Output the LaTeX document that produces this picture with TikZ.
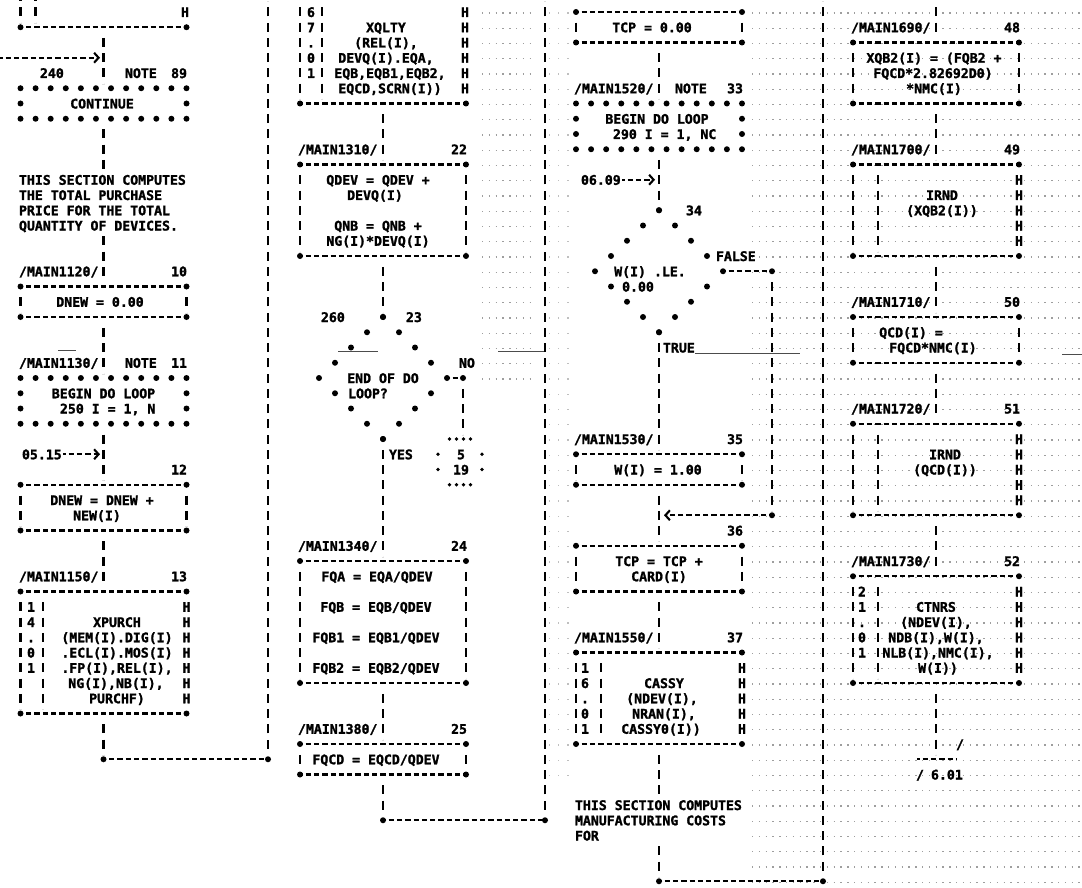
\documentclass[tikz,border=0pt]{standalone}
\usepackage{fontspec}
\newfontfamily\prt{DejaVu Sans Mono}[BoldFeatures={FakeBold=1.6}]
\newcommand\pfont{\prt\bfseries\fontsize{13.2pt}{13.2pt}\selectfont}
\usetikzlibrary{arrows.meta}
\tikzset{
  hl/.style={line width=2.1pt, dash pattern=on 5.3pt off 3pt, dash phase=2.65pt},
  vl/.style={line width=2.1pt, dash pattern=on 9pt off 6.25pt, dash phase=9pt, shorten <=4.5pt, shorten >=4.5pt},
  txt/.style={font=\pfont, inner sep=0pt, outer sep=0pt, anchor=base},
  lt/.style={txt, anchor=base west},
  rt/.style={txt, anchor=base east},
  boxn/.style={inner sep=0pt, outer sep=0pt, minimum width=166pt, anchor=north west},
  noise/.style={black!38, line width=1.3pt, dash pattern=on 1.3pt off 5.5pt},
  lnoise/.style={black!25, line width=1.2pt, dash pattern=on 1.2pt off 8pt},
  arr/.style={-{Straight Barb[length=4.5pt,width=10pt]}},
  art/.style={black!70, line width=0.9pt},
}
% plain process box: name, left x, top row, bottom row
\newcommand\boxn[4]{%
  \node[boxn, minimum height={15.25*(#4-#3)*1pt}] (#1) at (#2,{ry(#3)}) {};
  \draw[hl] (#1.north west) -- (#1.north east);
  \draw[hl] (#1.south west) -- (#1.south east);
  \draw[vl] (#1.north west) -- (#1.south west);
  \draw[vl] (#1.north east) -- (#1.south east);
  \foreach \anc in {north west,north east,south west,south east}{\fill (#1.\anc) circle (3pt);}
}
% predefined process box: name, left x, top row, bottom row, inner bar offset
\newcommand\pbox[5]{%
  \node[boxn, minimum height={15.25*(#4-#3)*1pt}] (#1) at (#2,{ry(#3)}) {};
  \draw[hl] (#1.north west) -- (#1.north east);
  \draw[hl] (#1.south west) -- (#1.south east);
  \draw[vl] (#1.north west) -- (#1.south west);
  \draw[vl] ([xshift=#5pt]#1.north west) -- ([xshift=#5pt]#1.south west);
  \foreach \anc in {north west,north east,south west,south east}{\fill (#1.\anc) circle (3pt);}
  \pgfmathtruncatemacro\rA{#3+1}\pgfmathtruncatemacro\rB{#4-1}
  \foreach \r in {\rA,...,\rB}{\node[txt] (#1-H-\r) at ({#2+166},{rb(\r)}) {H};}
}
% note box drawn with stars
\newcommand\nbox[4]{%
  \node[boxn, minimum height={15.25*(#4-#3)*1pt}] (#1) at (#2,{ry(#3)}) {};
  \foreach \i in {0,...,11}{\fill ({#2+15.09*\i},{ry(#3)}) circle (3pt); \fill ({#2+15.09*\i},{ry(#4)}) circle (3pt);}
  \pgfmathtruncatemacro\rA{#3+1}\pgfmathtruncatemacro\rB{#4-1}
  \foreach \r in {\rA,...,\rB}{\fill (#2,{ry(\r)}) circle (3pt); \fill ({#2+166},{ry(\r)}) circle (3pt);}
}
% decision drawn with stars: name, centre x, top row
\newcommand\dmd[3]{%
  \coordinate (#1) at (#2,{ry(#3+4)});
  \coordinate (#1-t) at (#2,{ry(#3)});
  \coordinate (#1-b) at (#2,{ry(#3+8)});
  \coordinate (#1-r) at ({#2+64},{ry(#3+4)});
  \foreach \k in {0,...,8}{\pgfmathsetmacro\hw{16*min(\k,8-\k)}
    \fill ({#2-\hw},{ry(#3+\k)}) circle (3pt);
    \fill ({#2+\hw},{ry(#3+\k)}) circle (3pt);}
}
\begin{document}
\begin{tikzpicture}[x=1pt,y=-1pt,declare function={ry(\r)=12+15.25*\r; rb(\r)=17+15.25*\r;}]
\useasboundingbox (0,0) rectangle (1082,888);
\fill[white] (0,0) rectangle (1082,888);

% ---------- faint printer noise
\foreach \r in {0,...,57}{\draw[noise] (752,{ry(\r)+1}) -- (1082,{ry(\r)+1});}
\foreach \r in {0,...,24}{\draw[noise] (482,{ry(\r)+1}) -- (530,{ry(\r)+1});}
\foreach \r in {0,...,50}{\draw[lnoise] (549,{ry(\r)+1}) -- (572,{ry(\r)+1});}
\draw[art] (58,350) -- (76,350);
\draw[art] (338,351) -- (378,351);
\draw[art] (498,351) -- (545,351);
\draw[art] (695,353) -- (800,353);
\draw[art] (1062,354) -- (1082,354);

% ================= COLUMN 1 (L=20.5, C=103.5)
\node[boxn, minimum height={15.25*6*1pt}] (pre1) at (20.5,{ry(-5)}) {};
\draw[vl] (pre1.north west) -- (pre1.south west);
\draw[vl] ([xshift=15pt]pre1.north west) -- ([xshift=15pt]pre1.south west);
\draw[hl] (pre1.south west) -- (pre1.south east);
\fill (pre1.south west) circle (3pt); \fill (pre1.south east) circle (3pt);
\node[txt] (c1h0) at (185,{rb(0)}) {H};

\coordinate (c1in) at (0,{ry(3)});
\coordinate (c1inend) at (100,{ry(3)});
\draw[hl,arr] (c1in) -- (c1inend);
\node[lt] (c1l240) at (40,{rb(4)}) {240};
\node[lt] (c1note89) at (125,{rb(4)}) {NOTE};
\node[rt] (c1n89) at (187,{rb(4)}) {89};
\nbox{cont}{20.5}{5}{7}
\node[txt] (c1cont) at (102,{rb(6)}) {CONTINUE};
\draw[vl] (pre1.south) -- (cont.north);

\coordinate (cm1top) at (103.5,{ry(11)});
\coordinate (cm1bot) at (103.5,{ry(14)});
\draw[vl] (cont.south) -- (cm1top);
\node[lt] (c1c1) at (19,{rb(11)}) {THIS SECTION COMPUTES};
\node[lt] (c1c2) at (19,{rb(12)}) {THE TOTAL PURCHASE};
\node[lt] (c1c3) at (19,{rb(13)}) {PRICE FOR THE TOTAL};
\node[lt] (c1c4) at (19,{rb(14)}) {QUANTITY OF DEVICES.};

\node[lt] (c1m10) at (19,{rb(17)}) {/MAIN1120/};
\node[rt] (c1n10) at (187,{rb(17)}) {10};
\boxn{dnew0}{20.5}{18}{20}
\node[txt] (c1t19) at (100,{rb(19)}) {DNEW = 0.00};
\draw[vl] (cm1bot) -- (dnew0.north);

\node[lt] (c1m11) at (19,{rb(23)}) {/MAIN1130/};
\node[lt] (c1note11) at (125,{rb(23)}) {NOTE};
\node[rt] (c1n11) at (187,{rb(23)}) {11};
\nbox{loop11}{20.5}{24}{27}
\node[txt] (c1t25) at (103.5,{rb(25)}) {BEGIN DO LOOP};
\node[lt] (c1t26) at (60,{rb(26)}) {250 I = 1, N};
\draw[vl] (dnew0.south) -- (loop11.north);

\node[lt] (c1e29) at (22,{rb(29)}) {05.15};
\coordinate (c1e29a) at (63,{ry(29)});
\coordinate (c1e29b) at (100,{ry(29)});
\draw[hl,arr] (c1e29a) -- (c1e29b);
\node[rt] (c1n12) at (187,{rb(30)}) {12};
\boxn{dnew1}{20.5}{31}{34}
\node[txt] (c1t32) at (102,{rb(32)}) {DNEW = DNEW +};
\node[txt] (c1t33) at (97,{rb(33)}) {NEW(I)};
\draw[vl] (loop11.south) -- (dnew1.north);

\node[lt] (c1m13) at (19,{rb(37)}) {/MAIN1150/};
\node[rt] (c1n13) at (187,{rb(37)}) {13};
\pbox{xpurch}{20.5}{38}{46}{22.5}
\draw[vl] (dnew1.south) -- (xpurch.north);
\foreach \d [count=\i from 39] in {1,4,.,0,1}{\node[txt] (c1d\i) at (31,{rb(\i)}) {\d};}
\node[txt] (c1x40) at (117,{rb(40)}) {XPURCH};
\node[txt] (c1x41) at (117,{rb(41)}) {(MEM(I).DIG(I)};
\node[txt] (c1x42) at (117,{rb(42)}) {.ECL(I).MOS(I)};
\node[txt] (c1x43) at (117,{rb(43)}) {.FP(I),REL(I),};
\node[txt] (c1x44) at (116,{rb(44)}) {NG(I),NB(I),};
\node[txt] (c1x45) at (117,{rb(45)}) {PURCHF)};

\coordinate (j1) at (103.5,{ry(49)});
\coordinate (j2) at (268,{ry(49)});
\coordinate (j2top) at (268,{ry(-1)});
\draw[vl] (xpurch.south) -- (j1);
\draw[hl] (j1) -- (j2);
\draw[vl] (j2) -- (j2top);
\fill (j1) circle (3pt); \fill (j2) circle (3pt);

% ================= COLUMN 2 (L=300, C=383)
\node[boxn, minimum height={15.25*7*1pt}] (xq) at (300,{ry(-1)}) {};
\draw[vl] (xq.north west) -- (xq.south west);
\draw[vl] ([xshift=22pt]xq.north west) -- ([xshift=22pt]xq.south west);
\draw[hl] (xq.south west) -- (xq.south east);
\fill (xq.south west) circle (3pt); \fill (xq.south east) circle (3pt);
\foreach \r in {0,...,5}{\node[txt] (xq-H-\r) at (465,{rb(\r)}) {H};}
\foreach \d [count=\i from 0] in {6,7,.,0,1}{\node[txt] (c2d\i) at (311,{rb(\i)}) {\d};}
\node[txt] (c2x1) at (386,{rb(1)}) {XQLTY};
\node[txt] (c2x2) at (386,{rb(2)}) {(REL(I),};
\node[txt] (c2x3) at (386,{rb(3)}) {DEVQ(I).EQA,};
\node[txt] (c2x4) at (390,{rb(4)}) {EQB,EQB1,EQB2,};
\node[txt] (c2x5) at (390,{rb(5)}) {EQCD,SCRN(I))};

\node[lt] (c2m22) at (298,{rb(9)}) {/MAIN1310/};
\node[rt] (c2n22) at (467,{rb(9)}) {22};
\boxn{qdev}{300}{10}{16}
\draw[vl] (xq.south) -- (qdev.north);
\node[txt] (c2t11) at (378,{rb(11)}) {QDEV = QDEV +};
\node[txt] (c2t12) at (375,{rb(12)}) {DEVQ(I)};
\node[txt] (c2t14) at (378,{rb(14)}) {QNB = QNB +};
\node[txt] (c2t15) at (378,{rb(15)}) {NG(I)*DEVQ(I)};

\dmd{d23}{383}{20}
\draw[vl] (qdev.south) -- (d23-t);
\node[lt] (c2l260) at (321,{rb(20)}) {260};
\node[lt] (c2n23) at (406,{rb(20)}) {23};
\node[txt] (c2q1) at (383,{rb(24)}) {END OF DO};
\node[txt] (c2q2) at (368,{rb(25)}) {LOOP?};
\node[lt] (c2no) at (459,{rb(23)}) {NO};
\coordinate (nob) at (463,{ry(24)});
\coordinate (noe) at (463,{ry(28)});
\draw[hl] (d23-r) -- (nob);
\fill (nob) circle (3pt);
\draw[vl] (nob) -- (noe);
% off-page connector 5 / 19
\node[txt] (opc5) at (461,{rb(29)}) {5};
\node[txt] (opc19) at (461,{rb(30)}) {19};
\foreach \xx in {449.5,456.5,463.5,470.5}{\fill (\xx,{ry(28)}) circle (1.8pt); \fill (\xx,{ry(31)}) circle (1.8pt);}
\foreach \yy in {29,30}{\fill (438,{ry(\yy)}) circle (1.8pt); \fill (482,{ry(\yy)}) circle (1.8pt);}

\node[lt] (c2yes) at (389,{rb(29)}) {YES};
\node[lt] (c2m24) at (298,{rb(35)}) {/MAIN1340/};
\node[rt] (c2n24) at (467,{rb(35)}) {24};
\boxn{fqa}{300}{36}{44}
\draw[vl] (d23-b) -- (fqa.north);
\node[txt] (c2t37) at (377,{rb(37)}) {FQA = EQA/QDEV};
\node[txt] (c2t39) at (376,{rb(39)}) {FQB = EQB/QDEV};
\node[txt] (c2t41) at (376,{rb(41)}) {FQB1 = EQB1/QDEV};
\node[txt] (c2t43) at (376,{rb(43)}) {FQB2 = EQB2/QDEV};

\node[lt] (c2m25) at (298,{rb(47)}) {/MAIN1380/};
\node[rt] (c2n25) at (467,{rb(47)}) {25};
\boxn{fqcd}{300}{48}{50}
\draw[vl] (fqa.south) -- (fqcd.north);
\node[txt] (c2t49) at (376,{rb(49)}) {FQCD = EQCD/QDEV};

\coordinate (j3) at (383,{ry(53)});
\coordinate (j4) at (545,{ry(53)});
\coordinate (j4top) at (545,{ry(-1)});
\draw[vl] (fqcd.south) -- (j3);
\draw[hl] (j3) -- (j4);
\draw[vl] (j4) -- (j4top);
\fill (j3) circle (3pt); \fill (j4) circle (3pt);

% ================= COLUMN 3 (L=576, C=659)
\boxn{tcp0}{576}{0}{2}
\node[txt] (c3t1) at (652,{rb(1)}) {TCP = 0.00};
\node[lt] (c3m33) at (574,{rb(5)}) {/MAIN1520/};
\node[lt] (c3note33) at (675,{rb(5)}) {NOTE};
\node[rt] (c3n33) at (743,{rb(5)}) {33};
\nbox{loop33}{576}{6}{9}
\draw[vl] (tcp0.south) -- (loop33.north);
\node[txt] (c3t7) at (657,{rb(7)}) {BEGIN DO LOOP};
\node[lt] (c3t8) at (613,{rb(8)}) {290 I = 1, NC};

\dmd{d34}{659}{13}
\draw[vl] (loop33.south) -- (d34-t);
\node[lt] (c3e11) at (581,{rb(11)}) {06.09};
\coordinate (c3e11a) at (622,{ry(11)});
\coordinate (c3e11b) at (655,{ry(11)});
\draw[hl,arr] (c3e11a) -- (c3e11b);
\node[lt] (c3n34) at (686,{rb(13)}) {34};
\node[lt] (c3false) at (716,{rb(16)}) {FALSE};
\node[txt] (c3q1) at (650,{rb(17)}) {W(I) .LE.};
\node[txt] (c3q2) at (638,{rb(18)}) {0.00};
\coordinate (fb1) at (772,{ry(17)});
\coordinate (fb2) at (772,{ry(33)});
\coordinate (fb3) at (664,{ry(33)});
\draw[hl] (d34-r) -- (fb1);
\fill (fb1) circle (3pt);
\draw[vl] (fb1) -- (fb2);
\fill (fb2) circle (3pt);
\draw[hl,arr] (fb2) -- (fb3);
\node[lt] (c3true) at (663,{rb(22)}) {TRUE};

\node[lt] (c3m35) at (574,{rb(28)}) {/MAIN1530/};
\node[rt] (c3n35) at (743,{rb(28)}) {35};
\boxn{w1}{576}{29}{31}
\draw[vl] (d34-b) -- (w1.north);
\node[txt] (c3t30) at (658,{rb(30)}) {W(I) = 1.00};

\node[rt] (c3n36) at (743,{rb(34)}) {36};
\boxn{tcp1}{576}{35}{38}
\draw[vl] (w1.south) -- (tcp1.north);
\node[txt] (c3t36) at (659,{rb(36)}) {TCP = TCP +};
\node[txt] (c3t37) at (659,{rb(37)}) {CARD(I)};

\node[lt] (c3m37) at (574,{rb(41)}) {/MAIN1550/};
\node[rt] (c3n37) at (743,{rb(41)}) {37};
\pbox{cassy}{576}{42}{48}{25}
\draw[vl] (tcp1.south) -- (cassy.north);
\foreach \d [count=\i from 43] in {1,6,.,0,1}{\node[txt] (c3d\i) at (585,{rb(\i)}) {\d};}
\node[txt] (c3x44) at (664,{rb(44)}) {CASSY};
\node[txt] (c3x45) at (662,{rb(45)}) {(NDEV(I),};
\node[txt] (c3x46) at (664,{rb(46)}) {NRAN(I),};
\node[txt] (c3x47) at (661,{rb(47)}) {CASSY0(I))};

\coordinate (cm3top) at (659,{ry(52)});
\coordinate (cm3bot) at (659,{ry(54)});
\draw[vl] (cassy.south) -- (cm3top);
\node[lt] (c3c1) at (575,{rb(52)}) {THIS SECTION COMPUTES};
\node[lt] (c3c2) at (575,{rb(53)}) {MANUFACTURING COSTS};
\node[lt] (c3c3) at (575,{rb(54)}) {FOR};
\coordinate (j5) at (659,{ry(57)});
\coordinate (j6) at (823,{ry(57)});
\coordinate (j6top) at (823,{ry(-1)});
\draw[vl] (cm3bot) -- (j5);
\draw[hl] (j5) -- (j6);
\draw[vl] (j6) -- (j6top);
\fill (j5) circle (3pt); \fill (j6) circle (3pt);

% ================= COLUMN 4 (L=853, C=936)
\coordinate (c4top) at (936,{ry(-1)});
\node[lt] (c4m48) at (851,{rb(1)}) {/MAIN1690/};
\node[rt] (c4n48) at (1020,{rb(1)}) {48};
\boxn{xqb}{853}{2}{6}
\draw[vl] (c4top) -- (xqb.north);
\node[txt] (c4t3) at (934,{rb(3)}) {XQB2(I) = (FQB2 +};
\node[txt] (c4t4) at (933,{rb(4)}) {FQCD*2.82692D0)};
\node[txt] (c4t5) at (934,{rb(5)}) {*NMC(I)};

\node[lt] (c4m49) at (851,{rb(9)}) {/MAIN1700/};
\node[rt] (c4n49) at (1020,{rb(9)}) {49};
\pbox{irnd1}{853}{10}{16}{25}
\draw[vl] (xqb.south) -- (irnd1.north);
\node[txt] (c4x12) at (942,{rb(12)}) {IRND};
\node[txt] (c4x13) at (942,{rb(13)}) {(XQB2(I))};

\node[lt] (c4m50) at (851,{rb(19)}) {/MAIN1710/};
\node[rt] (c4n50) at (1020,{rb(19)}) {50};
\boxn{qcd}{853}{20}{23}
\draw[vl] (irnd1.south) -- (qcd.north);
\node[txt] (c4t21) at (911,{rb(21)}) {QCD(I) =};
\node[txt] (c4t22) at (933,{rb(22)}) {FQCD*NMC(I)};

\node[lt] (c4m51) at (851,{rb(26)}) {/MAIN1720/};
\node[rt] (c4n51) at (1020,{rb(26)}) {51};
\pbox{irnd2}{853}{27}{33}{25}
\draw[vl] (qcd.south) -- (irnd2.north);
\node[txt] (c4x29) at (945,{rb(29)}) {IRND};
\node[txt] (c4x30) at (945,{rb(30)}) {(QCD(I))};

\node[lt] (c4m52) at (851,{rb(36)}) {/MAIN1730/};
\node[rt] (c4n52) at (1020,{rb(36)}) {52};
\pbox{ctnrs}{853}{37}{44}{25}
\draw[vl] (irnd2.south) -- (ctnrs.north);
\foreach \d [count=\i from 38] in {2,1,.,0,1}{\node[txt] (c4d\i) at (862,{rb(\i)}) {\d};}
\node[txt] (c4x39) at (936,{rb(39)}) {CTNRS};
\node[txt] (c4x40) at (936,{rb(40)}) {(NDEV(I),};
\node[txt] (c4x41) at (936,{rb(41)}) {NDB(I),W(I),};
\node[txt] (c4x42) at (938,{rb(42)}) {NLB(I),NMC(I),};
\node[txt] (c4x43) at (938,{rb(43)}) {W(I))};

% off-page connector 6.01
\coordinate (opc) at (936,{ry(49)});
\draw[vl] (ctnrs.south) -- (opc);
\coordinate (opcl) at (917,{ry(49)});
\coordinate (opcr) at (957,{ry(49)});
\draw[hl] (opcl) -- (opcr);
\node[txt] (c4sl1) at (960,{rb(48)}) {/};
\node[txt] (c4sl2) at (920,{rb(50)}) {/};
\node[lt] (c4p601) at (931,{rb(50)}) {6.01};
\end{tikzpicture}
\end{document}
